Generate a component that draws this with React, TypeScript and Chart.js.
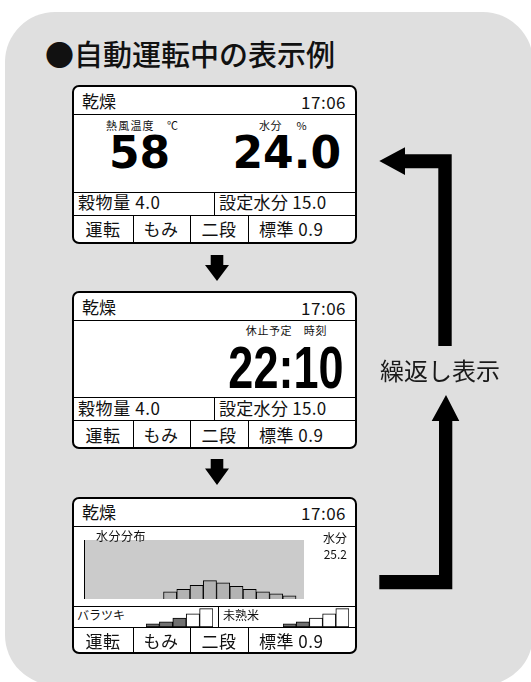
import React, { useEffect, useRef } from 'react';
import { Chart, registerables } from 'chart.js';

Chart.register(...registerables);

// ---- data ----
const moistureBins = [21.5, 22.5, 23.5, 24.5, 25.5, 26.5, 27.5, 28.5, 29.5, 30.5];
const distribution = [7, 9.5, 13.5, 18, 16, 12.5, 9.5, 7, 5, 3];
const distMin = 15;
const distMax = 31.6;
const distTop = 58;
const levelLabels = ['1', '2', '3', '4', '5'];
const levelHeights = [3, 5, 8.5, 12.5, 17.5];
const levelTop = 20;
const barakiLevel = 3;
const mijukuLevel = 2;

const title = '●自動運転中の表示例';
const modeText = '乾燥';
const clockText = '17:06';
const tempLabel = '熱風温度　℃';
const moistLabel = '水分　 %';
const tempValue = '58';
const moistValue = '24.0';
const grainText = '穀物量 4.0';
const setMoistText = '設定水分 15.0';
const footerCells = ['運転', 'もみ', '二段'];
const footerLast = '標準 0.9';
const stopLabel = '休止予定　時刻';
const stopTime = '22:10';
const distLabel = '水分分布';
const avgLabel = '水分';
const avgMoist = '25.2';
const barakiLabel = 'バラツキ';
const mijukuLabel = '未熟米';
const repeatText = '繰返し表示';

const CJK = '"Noto Sans CJK JP", "Noto Sans", sans-serif';

function T(props: { x: number; cy: number; size: number; children: any; align?: 'left' | 'right' | 'center'; weight?: number; family?: string; ls?: number; sx?: number; color?: string }) {
  const { x, cy, size, align = 'left', weight = 400, family = CJK, ls = 0, sx = 1, color = '#111' } = props;
  const style: any = {
    position: 'absolute',
    top: cy - 0.556 * size,
    fontSize: size,
    lineHeight: `${size}px`,
    fontFamily: family,
    fontWeight: weight,
    whiteSpace: 'pre',
    letterSpacing: ls,
    color,
  };
  if (align === 'left') { style.left = x; style.transformOrigin = 'left center'; }
  else if (align === 'right') { style.right = 531 - x; style.transformOrigin = 'right center'; }
  else { style.left = x - 30; style.width = 60; style.textAlign = 'center'; }
  if (sx !== 1) style.transform = `scaleX(${sx})`;
  return <div style={style}>{props.children}</div>;
}

function Big(props: { x: number; base: number; size: number; children: any; align: 'left' | 'right'; family: string; sx?: number }) {
  const { x, base, size, align, family, sx = 1 } = props;
  const style: any = {
    position: 'absolute',
    top: base - 0.746 * size,
    fontSize: size,
    lineHeight: `${0.8 * size}px`,
    fontFamily: family,
    fontWeight: 700,
    color: '#000',
    whiteSpace: 'nowrap',
  };
  if (align === 'left') { style.left = x; style.transformOrigin = 'left center'; }
  else { style.right = 531 - x; style.transformOrigin = 'right center'; }
  if (sx !== 1) style.transform = `scaleX(${sx})`;
  return <div style={style}>{props.children}</div>;
}

const H = (x1: number, x2: number, y: number) => (
  <div style={{ position: 'absolute', left: x1, top: y, width: x2 - x1, height: 1, background: '#000' }} />
);
const V = (x: number, y1: number, y2: number) => (
  <div style={{ position: 'absolute', left: x, top: y1, width: 1, height: y2 - y1, background: '#000' }} />
);

function Panel(props: { top: number; height: number }) {
  return (
    <div style={{ position: 'absolute', left: 72, top: props.top, width: 285, height: props.height, boxSizing: 'border-box', border: '2px solid #000', borderRadius: 7, background: '#fff' }} />
  );
}

function HistChart() {
  const ref = useRef<HTMLCanvasElement>(null);
  useEffect(() => {
    const bg = {
      id: 'plotBg',
      beforeDraw(chart: any) {
        const { ctx, chartArea } = chart;
        ctx.save();
        ctx.fillStyle = '#cbcbcb';
        ctx.fillRect(chartArea.left, chartArea.top, chartArea.right - chartArea.left, chartArea.bottom - chartArea.top);
        ctx.restore();
      },
    };
    const c = new Chart(ref.current!, {
      type: 'bar',
      data: {
        datasets: [{
          data: moistureBins.map((b, i) => ({ x: b, y: distribution[i] })),
          backgroundColor: '#b3b3b3',
          borderColor: '#000',
          borderWidth: 1,
          barPercentage: 1,
          categoryPercentage: 1,
        }],
      },
      options: {
        animation: false,
        responsive: false,
        maintainAspectRatio: false,
        layout: { padding: 0 },
        plugins: { legend: { display: false }, tooltip: { enabled: false } },
        scales: {
          x: { type: 'linear', min: distMin, max: distMax, offset: false, grid: { display: false, drawTicks: false }, ticks: { display: false }, border: { display: true, color: '#000', width: 1 } },
          y: { min: 0, max: distTop, grid: { display: false, drawTicks: false }, ticks: { display: false }, border: { display: true, color: '#000', width: 1 } },
        },
      } as any,
      plugins: [bg],
    });
    return () => c.destroy();
  }, []);
  return <canvas ref={ref} width={220} height={59} style={{ position: 'absolute', left: 84, top: 540, width: 220, height: 59 }} />;
}

function LevelChart(props: { left: number; width: number; level: number }) {
  const ref = useRef<HTMLCanvasElement>(null);
  useEffect(() => {
    const c = new Chart(ref.current!, {
      type: 'bar',
      data: {
        labels: levelLabels,
        datasets: [{
          data: levelHeights,
          backgroundColor: levelLabels.map((_, i) => (i < props.level ? '#707070' : '#ffffff')),
          borderColor: '#000',
          borderWidth: 1,
          borderSkipped: false,
          barPercentage: 1,
          categoryPercentage: 1,
        }],
      },
      options: {
        animation: false,
        responsive: false,
        maintainAspectRatio: false,
        layout: { padding: 0 },
        plugins: { legend: { display: false }, tooltip: { enabled: false } },
        scales: {
          x: { display: false },
          y: { display: false, min: 0, max: levelTop },
        },
      } as any,
    });
    return () => c.destroy();
  }, []);
  return <canvas ref={ref} width={props.width} height={21} style={{ position: 'absolute', left: props.left, top: 606, width: props.width, height: 21 }} />;
}

function Footer(props: { cy: number }) {
  const centers = [103, 161, 219];
  return (
    <>
      {footerCells.map((t, i) => <T key={i} x={centers[i]} cy={props.cy} size={17} align="center" ls={0.5}>{t}</T>)}
      <T x={259} cy={props.cy} size={17} ls={0.5}>{footerLast}</T>
    </>
  );
}

export default function App() {
  return (
    <div style={{ position: 'fixed', left: 0, top: 0, width: 531, height: 682, overflow: 'hidden', background: '#fff' }}>
      <div style={{ position: 'absolute', left: 5, top: 12, width: 528, height: 673, background: '#dfdfdf', borderRadius: 50 }} />

      <T x={45} cy={55} size={29} weight={500}>{title}</T>

      {/* Panel 1 */}
      <Panel top={85} height={159} />
      {H(72, 357, 114)}
      {H(72, 357, 192)}
      {H(72, 357, 215)}
      {V(214, 192, 215)}
      {V(133, 215, 244)}
      {V(190, 215, 244)}
      {V(248, 215, 244)}
      <T x={82} cy={101.5} size={17}>{modeText}</T>
      <T x={346} cy={102.5} size={17} align="right" ls={0.5}>{clockText}</T>
      <T x={106} cy={126} size={11} ls={1.2}>{tempLabel}</T>
      <T x={259} cy={126} size={11} ls={0.5}>{moistLabel}</T>
      <Big x={109} base={168.3} size={44} align="left" family='"DejaVu Sans", sans-serif'>{tempValue}</Big>
      <Big x={341} base={168.3} size={44} align="right" family='"DejaVu Sans", sans-serif'>{moistValue}</Big>
      <T x={78} cy={202.5} size={17} ls={0.6}>{grainText}</T>
      <T x={219} cy={202.5} size={17} ls={0.3}>{setMoistText}</T>
      <Footer cy={229.5} />

      {/* Panel 2 */}
      <Panel top={291} height={158} />
      {H(72, 357, 320)}
      {H(72, 357, 397)}
      {H(72, 357, 420)}
      {V(214, 397, 420)}
      {V(133, 420, 449)}
      {V(190, 420, 449)}
      {V(248, 420, 449)}
      <T x={82} cy={307.5} size={17}>{modeText}</T>
      <T x={346} cy={308.5} size={17} align="right" ls={0.5}>{clockText}</T>
      <T x={327} cy={331} size={11} align="right" ls={0.6}>{stopLabel}</T>
      <Big x={343} base={388.3} size={60} align="right" family='"Liberation Sans", Arial, sans-serif' sx={0.75}>{stopTime}</Big>
      <T x={78} cy={408.5} size={17} ls={0.6}>{grainText}</T>
      <T x={219} cy={408.5} size={17} ls={0.3}>{setMoistText}</T>
      <Footer cy={435} />

      {/* Panel 3 */}
      <Panel top={497} height={157} />
      {H(72, 357, 526)}
      {H(72, 357, 606)}
      {H(72, 357, 627)}
      {V(218, 606, 627)}
      {V(133, 627, 654)}
      {V(190, 627, 654)}
      {V(248, 627, 654)}
      <T x={82} cy={512.5} size={17}>{modeText}</T>
      <T x={346} cy={513.5} size={17} align="right" ls={0.5}>{clockText}</T>
      <HistChart />
      <T x={96} cy={537} size={12} ls={0.5}>{distLabel}</T>
      <T x={347} cy={538.5} size={12} align="right">{avgLabel}</T>
      <T x={347} cy={555} size={12} align="right">{avgMoist}</T>
      <LevelChart left={146} width={67} level={barakiLevel} />
      <LevelChart left={283} width={66} level={mijukuLevel} />
      <T x={77} cy={616} size={12}>{barakiLabel}</T>
      <T x={223} cy={616} size={12}>{mijukuLabel}</T>
      <Footer cy={641} />

      {/* arrows */}
      <svg width={531} height={682} style={{ position: 'absolute', left: 0, top: 0 }}>
        <polygon points="210.7,255 223.3,255 223.3,265 229,265 217,281 205,265 210.7,265" fill="#000" />
        <polygon points="210.7,459 223.3,459 223.3,468.5 229,468.5 217,485 205,468.5 210.7,468.5" fill="#000" />
        <polygon points="379.3,161 405,147.3 405,154.3 451.7,154.3 451.7,346 438.3,346 438.3,168.3 405,168.3 405,175" fill="#000" />
        <polygon points="446,395 459.3,421 452.3,421 452.3,589.3 379.3,589.3 379.3,575 439,575 439,421 431.7,421" fill="#000" />
      </svg>
      <T x={380} cy={371} size={24} color="#1a1a1a">{repeatText}</T>
    </div>
  );
}
